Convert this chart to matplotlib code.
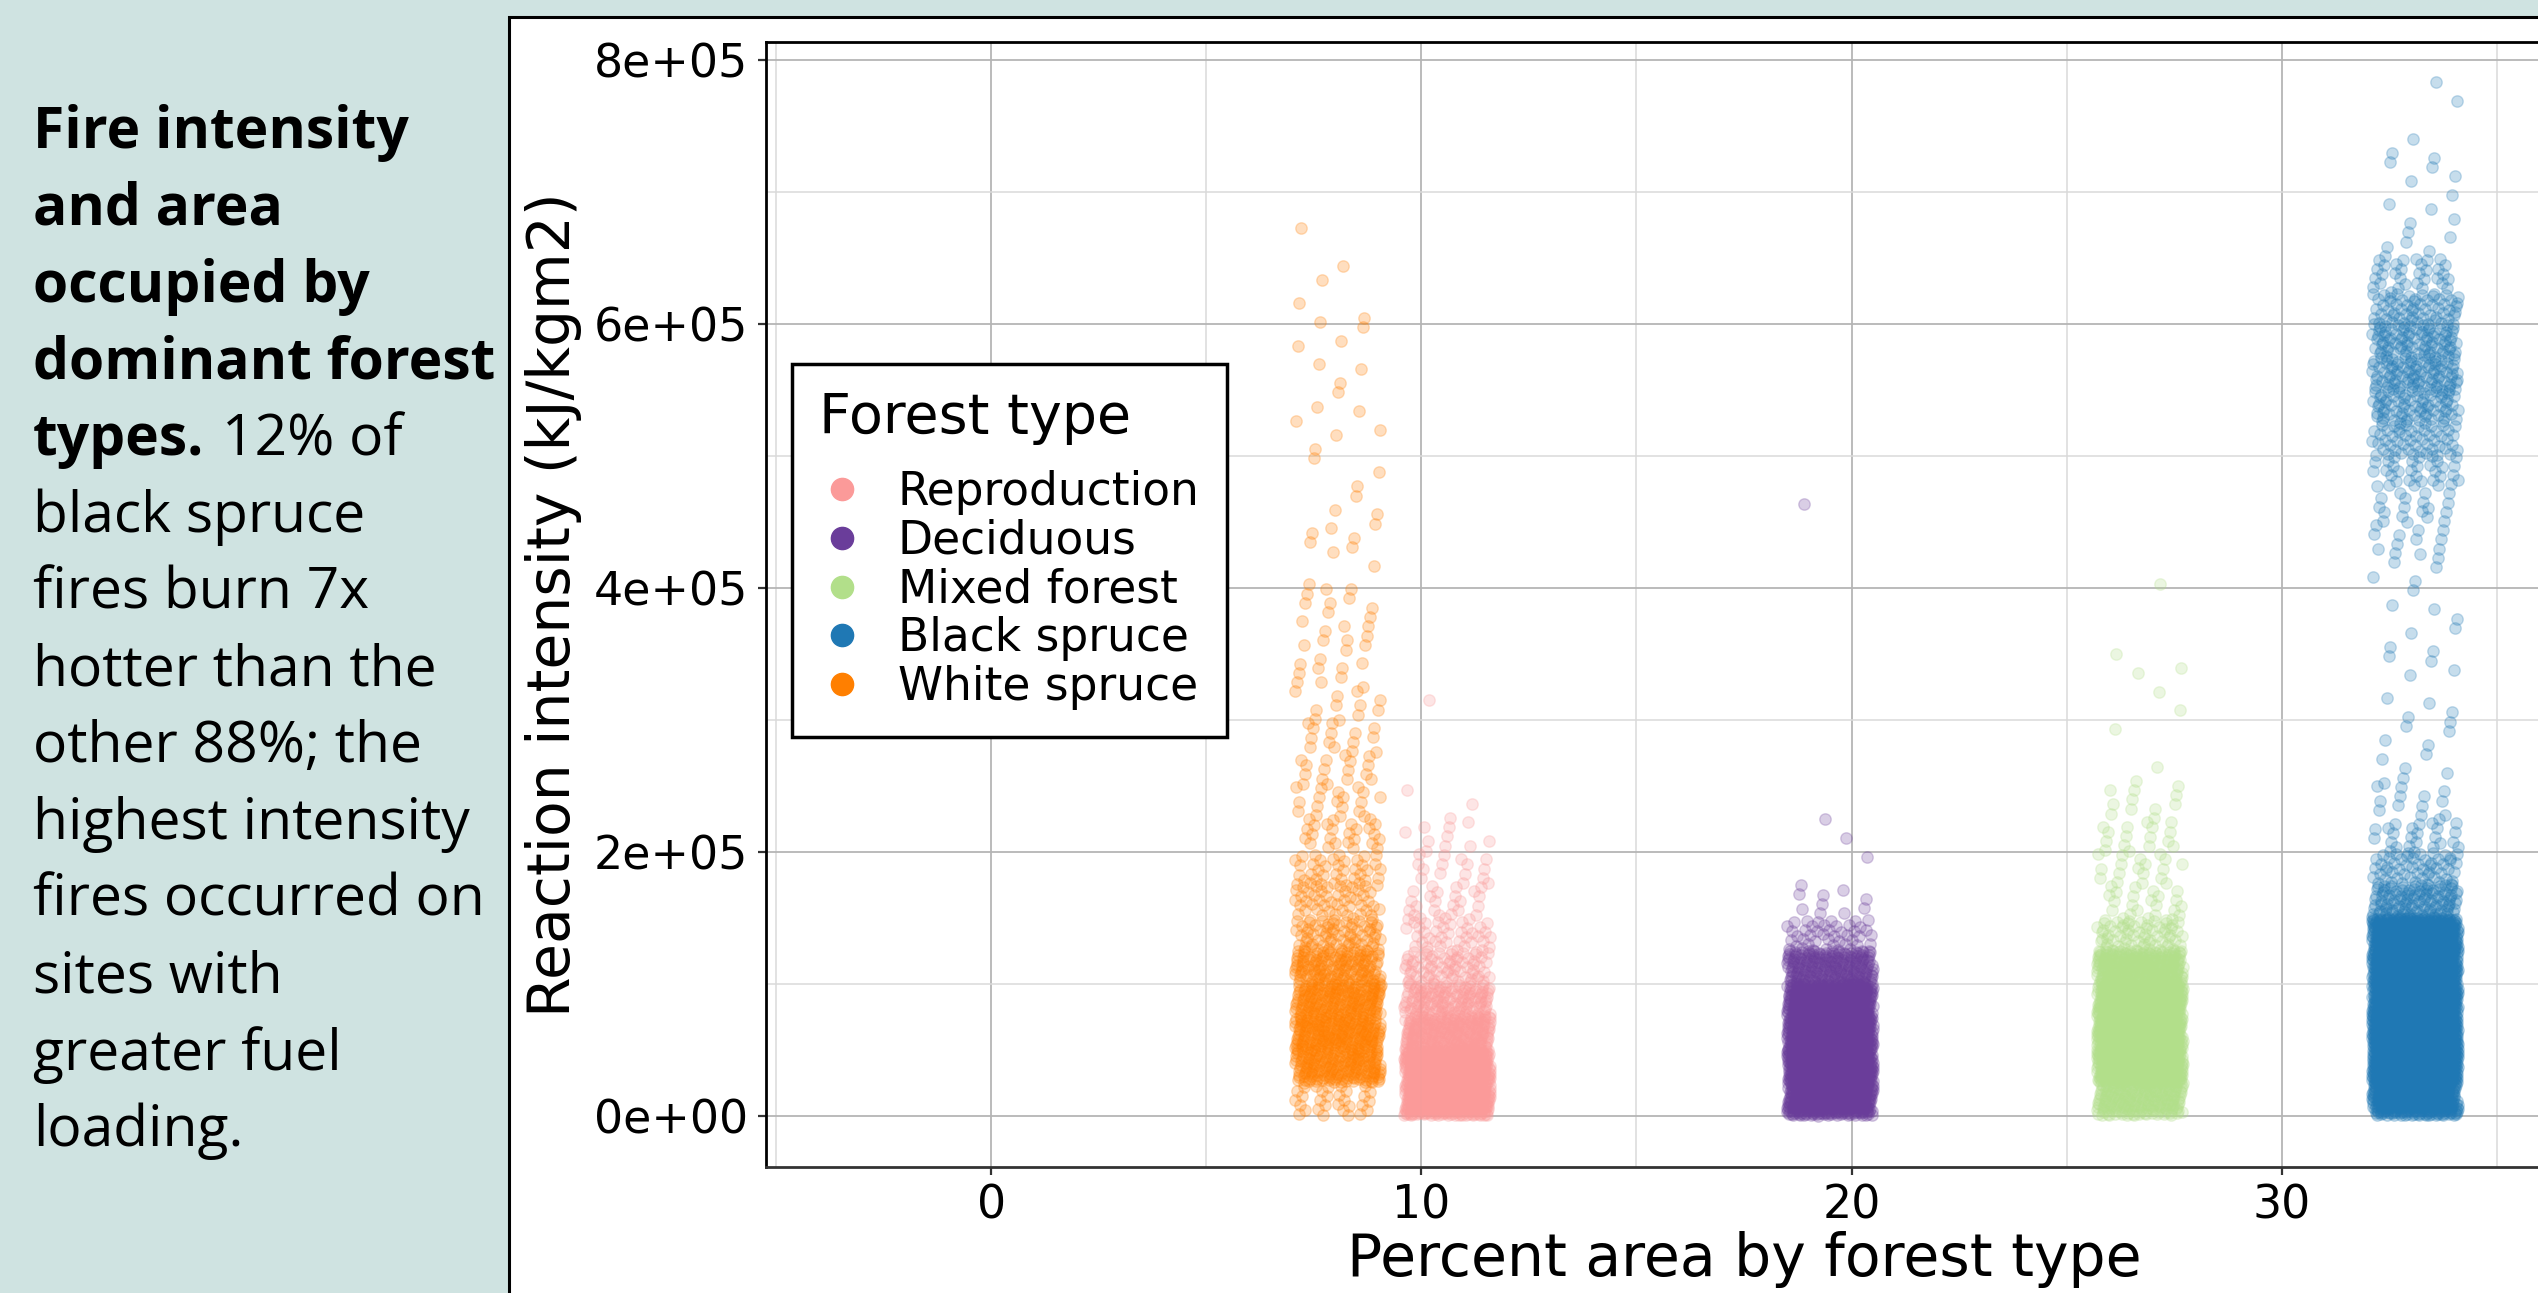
import numpy as np
import matplotlib.pyplot as plt
from matplotlib.lines import Line2D
from matplotlib.patches import Rectangle
from matplotlib.ticker import MultipleLocator, FixedLocator, FuncFormatter

W, H, DPI = 2538, 1293, 100

forest_types = ['Reproduction', 'Deciduous', 'Mixed forest', 'Black spruce', 'White spruce']
colors = ['#fb9a99', '#6a3d9a', '#b2df8a', '#1f78b4', '#ff7f00']
# percent of area occupied by each forest type (x position of each cluster)
pct_area = [10.6, 19.5, 26.7, 33.1, 8.05]

# number of fires per 25k kJ/kgm2 bin of reaction intensity, starting at 0
bin_width = 25000
reproduction_counts = [400, 380, 220, 130, 70, 40, 22, 15, 10, 3, 0, 0, 1]
deciduous_counts = [400, 500, 450, 380, 200, 45, 10, 1, 2, 0, 0, 0, 0, 0, 0, 0, 0, 0, 1]
mixed_counts = [200, 420, 420, 400, 260, 70, 20, 18, 16, 10, 3, 1, 2, 3, 0, 0, 1]
black_spruce_counts = [350, 600, 600, 550, 500, 450, 110, 55, 25, 12, 6, 5, 4, 4, 4, 4,
                       5, 12, 18, 32, 50, 70, 85, 80, 60, 30, 6, 5, 4, 3, 1, 1]
white_spruce_counts = [30, 170, 190, 170, 130, 70, 45, 38, 25, 18, 16, 14, 11, 10, 10, 9,
                       2, 7, 3, 3, 3, 4, 3, 3, 3, 2, 1]
all_counts = [reproduction_counts, deciduous_counts, mixed_counts,
              black_spruce_counts, white_spruce_counts]

x_ticks = [0, 10, 20, 30]

caption_lines = ['Fire intensity', 'and area', 'occupied by', 'dominant forest', 'types.',
                 'black spruce', 'fires burn 7x', 'hotter than the', 'other 88%; the',
                 'highest intensity', 'fires occurred on', 'sites with', 'greater fuel',
                 'loading.']
n_bold = 5
caption_tail = '12% of'

jitter = 1.0
# R2 low-discrepancy steps, used for a deterministic jitter
g = 1.32471795724
a1, a2 = 1 / g, 1 / g ** 2


def spread(counts, center, offset):
    # lay the binned points out as a jittered strip
    xs, ys = [], []
    i = 0
    for k, n in enumerate(counts):
        for j in range(n):
            ys.append((k + (0.5 + i * a2 + offset) % 1.0) * bin_width)
            xs.append(center + (((0.5 + i * a1) % 1.0) * 2 - 1) * jitter)
            i += 1
    return np.array(xs), np.array(ys)


fig = plt.figure(figsize=(W / DPI, H / DPI), dpi=DPI)
fig.patch.set_facecolor('#cfe3e1')
fig.patches.append(Rectangle((509 / W, -0.1), 1.0, 1.1 - 17 / H, transform=fig.transFigure,
                             facecolor='white', edgecolor='black', linewidth=2.2, zorder=-1))

ax = fig.add_axes([766 / W, 1 - 1167 / H, (2722 - 766) / W, (1167 - 42) / H])

for k, (col, x0, counts) in enumerate(zip(colors, pct_area, all_counts)):
    xs, ys = spread(counts, x0, 0.21 * k)
    ax.scatter(xs, ys, s=68, color=col, alpha=0.25, linewidths=1.0, zorder=3)

ax.set_xlim(-5.24, 40.24)
ax.set_ylim(-39000, 814000)
ax.xaxis.set_major_locator(FixedLocator(x_ticks))
ax.xaxis.set_minor_locator(MultipleLocator(5))
ax.yaxis.set_major_locator(MultipleLocator(200000))
ax.yaxis.set_minor_locator(MultipleLocator(100000))
ax.yaxis.set_major_formatter(FuncFormatter(lambda v, p: '{:.0e}'.format(v)))
ax.grid(which='major', color='#b5b5b5', linewidth=1.3, zorder=0)
ax.grid(which='minor', color='#dadada', linewidth=1.1, zorder=0)
ax.set_axisbelow(True)
ax.tick_params(which='major', labelsize=33, length=6, width=1.6, color='#333333')
ax.tick_params(axis='y', pad=7)
ax.tick_params(axis='x', pad=6)
ax.tick_params(which='minor', length=0)
for sp in ax.spines.values():
    sp.set_linewidth(2)
    sp.set_color('black')
ax.spines['bottom'].set_color('#333333')

ax.set_xlabel('Percent area by forest type', fontsize=42, labelpad=2)
ax.set_ylabel('Reaction intensity (kJ/kgm2)', fontsize=42, labelpad=8)

handles = [Line2D([], [], marker='o', linestyle='', color=c, markersize=16) for c in colors]
leg = ax.legend(handles, forest_types, title='Forest type', loc='upper left',
                bbox_to_anchor=(792 / W, 1 - 364 / H), bbox_transform=fig.transFigure,
                borderaxespad=0, fontsize=32.8, title_fontsize=40, frameon=True, fancybox=False,
                edgecolor='black', framealpha=1, borderpad=0.6, labelspacing=0.08,
                handlelength=1.0, handletextpad=0.72, alignment='left')
leg.get_frame().set_linewidth(2.5)
leg._legend_box.sep = 18

# caption on the left
x_txt = 33 / W
for i, line in enumerate(caption_lines):
    y_txt = 1 - (148 + i * 76.8) / H
    t = fig.text(x_txt, y_txt, line, fontsize=41, family='Open Sans',
                 weight='bold' if i < n_bold else 'normal', va='baseline', ha='left')
    if i == n_bold - 1:
        fig.canvas.draw()
        bb = t.get_window_extent()
        fig.text((bb.x1 + 18) / W, y_txt, caption_tail, fontsize=41, family='Open Sans',
                 va='baseline', ha='left')

fig.savefig('out.png', dpi=DPI, facecolor=fig.get_facecolor())
